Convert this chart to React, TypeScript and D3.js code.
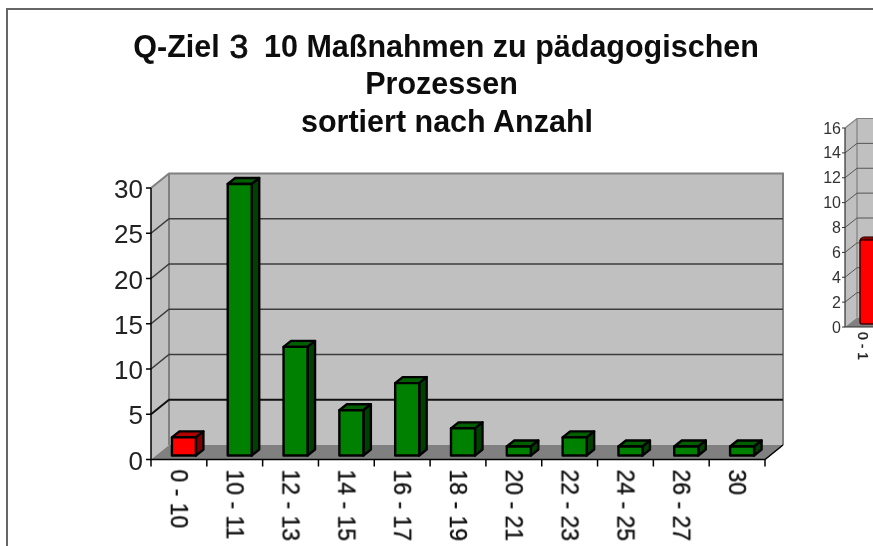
import React from "react";
import * as d3 from "d3";

const categories = ["0 - 10","10 - 11","12 - 13","14 - 15","16 - 17","18 - 19","20 - 21","22 - 23","24 - 25","26 - 27","30"];
const counts = [2,30,12,5,8,3,1,2,1,1,1];
const barColors = ["#ff0000","#008000","#008000","#008000","#008000","#008000","#008000","#008000","#008000","#008000","#008000"];
const sideColors = ["#800000","#004000","#004000","#004000","#004000","#004000","#004000","#004000","#004000","#004000","#004000"];
const topColors = ["#b00000","#006000","#006000","#006000","#006000","#006000","#006000","#006000","#006000","#006000","#006000"];
const yTicks = [0,5,10,15,20,25,30];
const miniTicks = [0,2,4,6,8,10,12,14,16];
const miniCategory = "0 - 1";
const miniValue = 7;

const FONT = "'Liberation Sans', Arial, sans-serif";

export default function App() {
  const W = 873, H = 546;
  const x = d3.scaleBand<string>().domain(categories).range([151, 765]).paddingInner(0).paddingOuter(0);
  const y = d3.scaleLinear().domain([0, 30]).range([459.5, 188]);
  const dx = 18, dy = -14.5;
  const xl = 151, xr = 765, y0 = y(0), yT = y(30);
  const bw = 24, bdx = 7.5, bdy = 6, bshift = 5.5, blift = 4;

  const my = d3.scaleLinear().domain([0, 16]).range([327, 128]);
  const mx0 = 845, mdx = 12, mdy = -9.5;

  return (
    <svg width={W} height={H} viewBox={`0 0 ${W} ${H}`}
      style={{ position: "fixed", left: 0, top: 0, background: "#fff" }} fontFamily={FONT}>
      <defs>
        <filter id="soft" x="-5%" y="-5%" width="110%" height="110%"><feGaussianBlur stdDeviation="0.35" /></filter>
        <filter id="soft3" x="-30%" y="-30%" width="160%" height="160%"><feGaussianBlur stdDeviation="0.7" /></filter>
      </defs>
      <path d={`M7 546V9H873`} fill="none" stroke="#666" strokeWidth={2} />

      <g filter="url(#soft)">
        <g textAnchor="middle" fontWeight="bold" fontSize={30.5} fill="#111">
          <text x={176.5} y={57}>Q-Ziel</text>
          <text x={239} y={58} fontWeight="normal" fontSize={34} fill="#111" stroke="#111" strokeWidth={0.8} filter="url(#soft3)">3</text>
          <text x={264} y={57} textAnchor="start">10 Maßnahmen zu pädagogischen</text>
          <text x={441.5} y={94}>Prozessen</text>
          <text x={447} y={132}>sortiert nach Anzahl</text>
        </g>
      </g>

      {/* walls */}
      <polygon points={`${xl},${yT} ${xl + dx},${yT + dy} ${xl + dx},${y0 + dy} ${xl},${y0}`} fill="#c0c0c0" />
      <rect x={xl + dx} y={yT + dy} width={xr - xl} height={y0 - yT} fill="#c0c0c0" />
      <polygon points={`${xl},${y0} ${xl + dx},${y0 + dy} ${xr + dx},${y0 + dy} ${xr},${y0}`} fill="#808080" />
      <path d={`M${xl} ${yT}L${xl + dx} ${yT + dy}H${xr + dx}V${y0 + dy}`} fill="none" stroke="#808080" strokeWidth={2} />
      <path d={`M${xl + dx} ${yT + dy}V${y0 + dy}`} stroke="#808080" strokeWidth={2} />
      {yTicks.filter(t => t > 0 && t < 30).map(t => (
        <path key={t} d={`M${xl} ${y(t)}L${xl + dx} ${y(t) + dy}H${xr + dx}`} fill="none"
          stroke={t === 5 ? "#111" : "#3c3c3c"} strokeWidth={t === 5 ? 2 : 1.6} />
      ))}

      {/* bars */}
      {categories.map((c, i) => {
        const left = x(c)! + x.bandwidth() / 2 - bw / 2 + bshift - 0.5;
        const right = left + bw;
        const base = y0 - blift;
        const top = base - (y0 - y(counts[i]));
        return (
          <g key={c} stroke="#000" strokeWidth={2.4} strokeLinejoin="round">
            <polygon points={`${left},${top} ${left + bdx},${top - bdy} ${right + bdx},${top - bdy} ${right},${top}`} fill={topColors[i]} />
            <polygon points={`${right},${top} ${right + bdx},${top - bdy} ${right + bdx},${base - bdy} ${right},${base}`} fill={sideColors[i]} />
            <rect x={left} y={top} width={bw} height={base - top} fill={barColors[i]} />
          </g>
        );
      })}

      {/* axes */}
      <path d={`M${xl} ${yT}V${y0}H${xr}L${xr + dx} ${y0 + dy}`} fill="none" stroke="#000" strokeWidth={1.5} />
      {yTicks.map(t => (
        <g key={t}>
          <path d={`M${xl - 5} ${y(t)}H${xl}`} stroke="#000" strokeWidth={1.5} />
          <text x={xl - 8} y={y(t) + 10} textAnchor="end" fontSize={26} fill="#222" filter="url(#soft)">{t}</text>
        </g>
      ))}
      {categories.map(c => (
        <path key={c} d={`M${x(c)!} ${y0}v7`} stroke="#000" strokeWidth={1.5} />
      ))}
      <path d={`M${xr} ${y0}v7`} stroke="#000" strokeWidth={1.5} />
      {categories.map(c => (
        <text key={c} filter="url(#soft)" transform={`translate(${x(c)! + x.bandwidth() / 2},${y0 + 10}) rotate(90)`}
          fontSize={23} fill="#111" stroke="#111" strokeWidth={0.35} y={8}>{c}</text>
      ))}

      {/* partial second chart */}
      <g filter="url(#soft)">
        <polygon points={`${mx0},${my(16)} ${mx0 + mdx},${my(16) + mdy} ${mx0 + mdx},${my(0) + mdy} ${mx0},${my(0)}`} fill="#c0c0c0" />
        <rect x={mx0 + mdx} y={my(16) + mdy} width={40} height={my(0) - my(16)} fill="#c0c0c0" />
        <polygon points={`${mx0},${my(0)} ${mx0 + mdx},${my(0) + mdy} ${W},${my(0) + mdy} ${W},${my(0)}`} fill="#808080" />
        <path d={`M${mx0} ${my(16)}L${mx0 + mdx} ${my(16) + mdy}H${W}M${mx0 + mdx} ${my(16) + mdy}V${my(0) + mdy}`} fill="none" stroke="#808080" strokeWidth={1.2} />
        {miniTicks.filter(t => t > 0 && t < 16).map(t => (
          <path key={t} d={`M${mx0} ${my(t)}L${mx0 + mdx} ${my(t) + mdy}H${W}`} fill="none" stroke="#555" strokeWidth={1} />
        ))}
        <path d={`M860 ${my(miniValue) + 1}Q860 ${my(miniValue) - 3} 865 ${my(miniValue) - 3}H873V${my(miniValue)}H860Z`} fill="#900000" stroke="#300" strokeWidth={1} />
        <rect x={860} y={my(miniValue)} width={20} height={my(0) - my(miniValue) - 3} fill="#ff0000" stroke="#400" strokeWidth={1.5} rx={2} />
        <path d={`M${mx0} ${my(16)}V${my(0)}H${W}`} fill="none" stroke="#333" strokeWidth={1.2} />
        {miniTicks.map(t => (
          <g key={t}>
            <path d={`M${mx0 - 3} ${my(t)}H${mx0}`} stroke="#333" strokeWidth={1} />
            <text x={mx0 - 4} y={my(t) + 5.5} textAnchor="end" fontSize={16} fill="#333">{t}</text>
          </g>
        ))}
        <text transform={`translate(858,332) rotate(90)`} fontSize={14} fill="#222" stroke="#222" strokeWidth={0.3}>{miniCategory}</text>
      </g>
    </svg>
  );
}
